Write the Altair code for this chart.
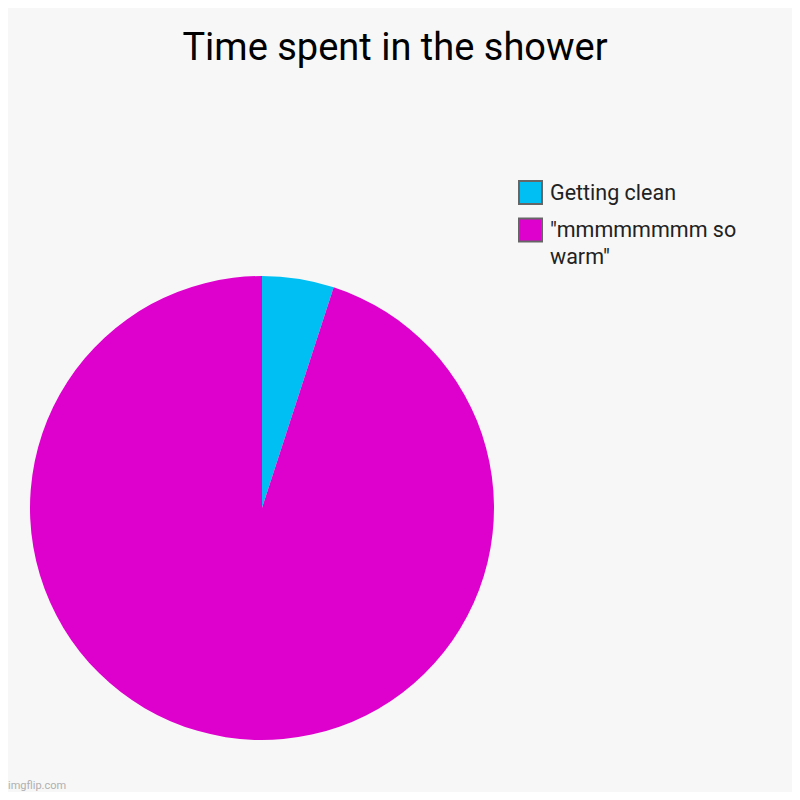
import altair as alt
import pandas as pd

labels = ["Getting clean", '"mmmmmmmm so warm"']
label_lines = [["Getting clean"], ['"mmmmmmmm so', 'warm"']]
values = [5, 95]
colors = ["#00c0f3", "#de00cc"]
order = [0, 1]

title_text = ["Time spent in the shower"]
watermark = ["imgflip.com"]

df = pd.DataFrame({"label": labels, "lines": label_lines, "value": values, "order": order})

color = alt.Color("label:N", scale=alt.Scale(domain=labels, range=colors), legend=None)

pie = alt.Chart(df).mark_arc(outerRadius=232, strokeWidth=0).encode(
    theta=alt.Theta("value:Q", stack=True),
    color=color,
    order=alt.Order("order:Q"),
    x=alt.value(254),
    y=alt.value(500),
)

ypos = alt.Y("order:Q", scale=alt.Scale(domain=[0, 1], range=[184.5, 222]), axis=None)

swatch = alt.Chart(df).mark_square(
    size=529, stroke="#666666", strokeWidth=2, opacity=1, fillOpacity=1
).encode(x=alt.value(522.5), y=ypos, color=color)

leg_text = alt.Chart(df).mark_text(
    align="left", baseline="alphabetic", font="Roboto", fontSize=21.5,
    color="#222222", lineHeight=26.5, dy=7
).encode(x=alt.value(542), y=ypos, text="lines")

title = alt.Chart(pd.DataFrame({"t": title_text})).mark_text(
    align="center", baseline="alphabetic", font="Roboto", fontSize=38, color="#000000"
).encode(text="t:N", x=alt.value(387), y=alt.value(52))

wm = alt.Chart(pd.DataFrame({"t": watermark})).mark_text(
    align="left", baseline="alphabetic", font="Roboto", fontSize=11, color="#b0b0b0"
).encode(text="t:N", x=alt.value(0), y=alt.value(781))

chart = alt.layer(pie, swatch, leg_text, title, wm).properties(
    width=784,
    height=784,
    autosize=alt.AutoSizeParams(type="none"),
    padding=0,
).configure(background="#f7f7f7").configure_view(stroke=None)

chart.save("out.html", embed_options={"renderer": "svg", "actions": False})
